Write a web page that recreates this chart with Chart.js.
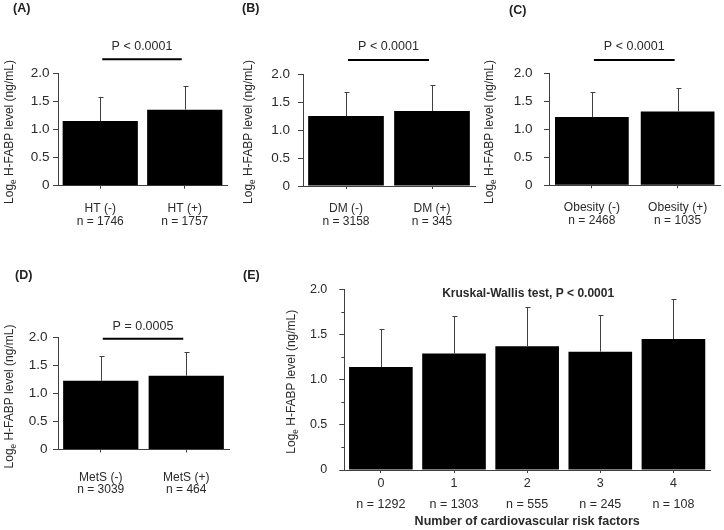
<!DOCTYPE html>
<html><head><meta charset="utf-8">
<script src="https://cdn.jsdelivr.net/npm/chart.js@4.4.1/dist/chart.umd.min.js"></script>
<style>
html,body{margin:0;padding:0;background:#fff;}
#fig{position:relative;width:724px;height:530px;overflow:hidden;background:#fff;}
canvas{position:absolute;}
.lbl{position:absolute;font:bold 12.5px 'Liberation Sans',Arial,sans-serif;color:#222;line-height:14px;white-space:nowrap;}
</style></head><body>
<div id="fig"></div>
<script>
// ---------- data ----------
const htCategories = [['HT (-)', 'n = 1746'], ['HT (+)', 'n = 1757']];
const htMeans = [1.15, 1.35];
const htSD = [0.42, 0.42];
const htP = 'P < 0.0001';

const dmCategories = [['DM (-)', 'n = 3158'], ['DM (+)', 'n = 345']];
const dmMeans = [1.25, 1.34];
const dmSD = [0.43, 0.46];
const dmP = 'P < 0.0001';

const obCategories = [['Obesity (-)', 'n = 2468'], ['Obesity (+)', 'n = 1035']];
const obMeans = [1.22, 1.32];
const obSD = [0.45, 0.42];
const obP = 'P < 0.0001';

const metsCategories = [['MetS (-)', 'n = 3039'], ['MetS (+)', 'n = 464']];
const metsMeans = [1.23, 1.32];
const metsSD = [0.44, 0.42];
const metsP = 'P = 0.0005';

const riskCategories = [['0', 'n = 1292'], ['1', 'n = 1303'], ['2', 'n = 555'], ['3', 'n = 245'], ['4', 'n = 108']];
const riskMeans = [1.14, 1.29, 1.37, 1.31, 1.45];
const riskSD = [0.42, 0.41, 0.43, 0.41, 0.44];
const riskTitle = 'Kruskal-Wallis test, P < 0.0001';
const riskXTitle = 'Number of cardiovascular risk factors';

const yTickValues = [0, 0.5, 1.0, 1.5, 2.0];
const yMinorTickValues = [0.25, 0.75, 1.25, 1.75];
const yTitleParts = ['Log', 'e', ' H-FABP level (ng/mL)'];
const panelLetters = ['(A)', '(B)', '(C)', '(D)', '(E)'];

// ---------- style ----------
const FONT = "'Liberation Sans', Arial, sans-serif";
const TEXT = '#2a2a2a';
const AXIS = '#404040';
const fig = document.getElementById('fig');

function drawYTitle(ctx, x, y, size) {
  ctx.save();
  ctx.translate(x, y);
  ctx.rotate(-Math.PI / 2);
  ctx.fillStyle = TEXT;
  ctx.textBaseline = 'middle';
  ctx.textAlign = 'left';
  const mainF = size + 'px ' + FONT;
  const subF = (size * 0.68) + 'px ' + FONT;
  ctx.font = mainF; const w0 = ctx.measureText(yTitleParts[0]).width;
  ctx.font = subF; const w1 = ctx.measureText(yTitleParts[1]).width;
  ctx.font = mainF; const w2 = ctx.measureText(yTitleParts[2]).width;
  let sx = -(w0 + w1 + w2) / 2;
  ctx.font = mainF; ctx.fillText(yTitleParts[0], sx, 0); sx += w0;
  ctx.font = subF; ctx.fillText(yTitleParts[1], sx, size * 0.32); sx += w1;
  ctx.font = mainF; ctx.fillText(yTitleParts[2], sx, 0);
  ctx.restore();
}

function extrasPlugin(p) {
  return {
    id: 'extras',
    afterDraw(chart) {
      const ctx = chart.ctx;
      const xs = chart.scales.x, ys = chart.scales.y;
      const area = chart.chartArea;
      const meta = chart.getDatasetMeta(0);
      // error bars
      ctx.save();
      ctx.strokeStyle = AXIS;
      ctx.lineWidth = 1;
      p.means.forEach((m, i) => {
        const bx = Math.round(meta.data[i].x) + 0.5;
        const y0 = ys.getPixelForValue(m);
        const y1 = Math.round(ys.getPixelForValue(m + p.sd[i])) + 0.5;
        ctx.beginPath();
        ctx.moveTo(bx, y0);
        ctx.lineTo(bx, y1);
        ctx.moveTo(bx - 2, y1);
        ctx.lineTo(bx + 3, y1);
        ctx.stroke();
      });
      // minor ticks
      if (p.minor) {
        p.minor.forEach(v => {
          const yy = Math.round(ys.getPixelForValue(v)) + 0.5;
          ctx.beginPath();
          ctx.moveTo(area.left - 3, yy);
          ctx.lineTo(area.left, yy);
          ctx.stroke();
        });
      }
      ctx.restore();
      // P annotation
      if (p.pText) {
        const x1 = xs.getPixelForValue(0) + 2;
        const x2 = xs.getPixelForValue(1) - 3;
        const ly = area.top - p.pLineAbove;
        ctx.save();
        ctx.strokeStyle = '#000';
        ctx.lineWidth = 2;
        ctx.beginPath();
        ctx.moveTo(x1, ly);
        ctx.lineTo(x2, ly);
        ctx.stroke();
        ctx.fillStyle = TEXT;
        ctx.font = '12.5px ' + FONT;
        ctx.textAlign = 'center';
        ctx.textBaseline = 'middle';
        ctx.fillText(p.pText, (x1 + x2) / 2, area.top - p.pTextAbove);
        ctx.restore();
      }
      // chart title inside area
      if (p.chartTitle) {
        ctx.save();
        ctx.fillStyle = TEXT;
        ctx.font = 'bold 12px ' + FONT;
        ctx.textAlign = 'center';
        ctx.textBaseline = 'middle';
        ctx.fillText(p.chartTitle, (area.left + area.right) / 2 + 1, area.top + p.titleBelow);
        ctx.restore();
      }
      drawYTitle(ctx, p.yTitleX, p.yTitleY, 12);
    }
  };
}

function makePanel(p) {
  const c = document.createElement('canvas');
  c.width = p.w; c.height = p.h;
  c.style.left = p.left + 'px'; c.style.top = p.top + 'px';
  c.style.width = p.w + 'px'; c.style.height = p.h + 'px';
  fig.appendChild(c);
  new Chart(c.getContext('2d'), {
    type: 'bar',
    data: {
      labels: p.categories,
      datasets: [{ data: p.means, backgroundColor: '#000', borderWidth: 0,
                   barPercentage: p.barPct, categoryPercentage: 1 }]
    },
    options: {
      responsive: false, animation: false, devicePixelRatio: 1,
      layout: { padding: { left: 0, top: p.padTop, right: p.padRight, bottom: 0 } },
      plugins: { legend: { display: false }, tooltip: { enabled: false }, title: { display: false } },
      scales: {
        x: {
          type: 'category', offset: true,
          grid: { display: true, offset: false, drawOnChartArea: false, drawTicks: true, tickLength: 3, color: AXIS },
          border: { display: true, color: AXIS, width: 1 },
          ticks: { color: TEXT, font: { family: FONT, size: p.xFont, lineHeight: p.xLineHeight / p.xFont },
                   padding: p.xTickPad, maxRotation: 0, minRotation: 0, autoSkip: false },
          title: p.xTitle ? { display: true, text: p.xTitle, color: TEXT,
                   font: { family: FONT, size: 12.5, weight: 'bold', lineHeight: 1.2 }, padding: { top: 0, bottom: 0.5 } }
                 : { display: false },
          afterFit: s => { s.height = p.xHeight; }
        },
        y: {
          min: 0, max: 2,
          afterBuildTicks: s => { s.ticks = yTickValues.map(v => ({ value: v })); },
          grid: { display: true, drawOnChartArea: false, drawTicks: true, tickLength: 5, color: AXIS },
          border: { display: true, color: AXIS, width: 1 },
          ticks: { color: TEXT, font: { family: FONT, size: p.yFont }, padding: p.yTickPad,
                   callback: v => (v === 0 ? '0' : Number(v).toFixed(1)) },
          afterFit: s => { s.width = p.yWidth; }
        }
      }
    },
    plugins: [extrasPlugin(p)]
  });
}

makePanel({ left: 0, top: 0, w: 240, h: 230, categories: htCategories, means: htMeans, sd: htSD,
  padTop: 73, padRight: 13, yWidth: 58, xHeight: 44.3, barPct: 0.89,
  yFont: 13.5, yTickPad: 3.5, xFont: 12, xLineHeight: 13, xTickPad: 13,
  pText: htP, pLineAbove: 13.7, pTextAbove: 26.3, yTitleX: 10, yTitleY: 132 });

makePanel({ left: 240, top: 0, w: 240, h: 230, categories: dmCategories, means: dmMeans, sd: dmSD,
  padTop: 74, padRight: 5, yWidth: 63, xHeight: 44, barPct: 0.88,
  yFont: 13.5, yTickPad: 8, xFont: 12, xLineHeight: 13, xTickPad: 13,
  pText: dmP, pLineAbove: 14, pTextAbove: 27.3, yTitleX: 9, yTitleY: 132 });

makePanel({ left: 480, top: 0, w: 244, h: 230, categories: obCategories, means: obMeans, sd: obSD,
  padTop: 73.3, padRight: 3.5, yWidth: 69, xHeight: 44.7, barPct: 0.86,
  yFont: 13.5, yTickPad: 11.5, xFont: 12, xLineHeight: 13, xTickPad: 13,
  pText: obP, pLineAbove: 13.3, pTextAbove: 26.6, yTitleX: 9.5, yTitleY: 132 });

makePanel({ left: 0, top: 230, w: 240, h: 300, categories: metsCategories, means: metsMeans, sd: metsSD,
  padTop: 107.7, padRight: 11, yWidth: 58, xHeight: 80.5, barPct: 0.88,
  yFont: 13.5, yTickPad: 5.5, xFont: 12, xLineHeight: 12.7, xTickPad: 18.5,
  pText: metsP, pLineAbove: -1, pTextAbove: 11, yTitleX: 10, yTitleY: 166.5 });

makePanel({ left: 240, top: 230, w: 484, h: 300, categories: riskCategories, means: riskMeans, sd: riskSD,
  padTop: 59.3, padRight: 14, yWidth: 104.3, xHeight: 60, barPct: 0.87,
  yFont: 12.5, yTickPad: 12, xFont: 12.5, xLineHeight: 21, xTickPad: 0,
  xTitle: riskXTitle, chartTitle: riskTitle, titleBelow: 4.7, minor: yMinorTickValues,
  yTitleX: 52, yTitleY: 151.7 });

// panel letters
const letterPos = [[13, 8.3], [242, 8.3], [509, 10], [15, 275], [243, 275]];
panelLetters.forEach((t, i) => {
  const d = document.createElement('div');
  d.className = 'lbl';
  d.textContent = t;
  d.style.left = letterPos[i][0] + 'px';
  d.style.top = (letterPos[i][1] - 7) + 'px';
  fig.appendChild(d);
});
</script>
</body></html>
